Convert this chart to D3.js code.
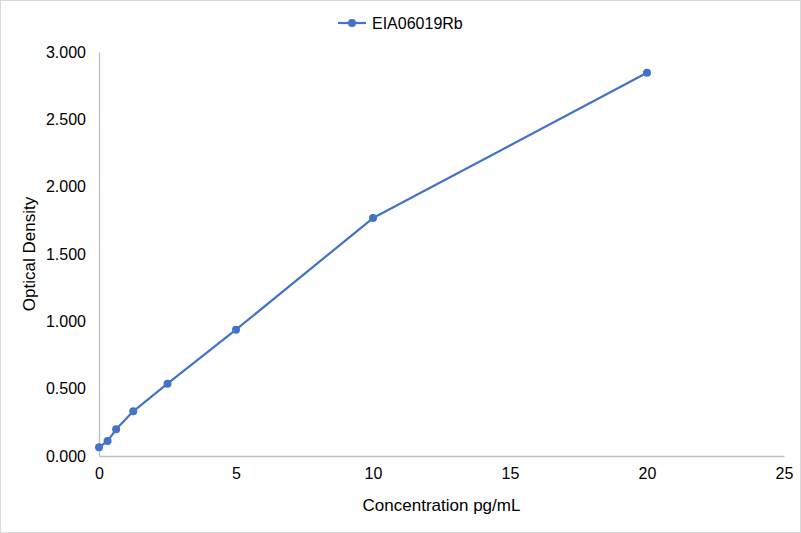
<!DOCTYPE html>
<html>
<head>
<meta charset="utf-8">
<script src="https://cdn.jsdelivr.net/npm/d3@7"></script>
<style>
  body { margin: 0; background: #fff; }
  svg { display: block; font-family: "Liberation Sans", Arial, sans-serif; }
</style>
</head>
<body>
<div id="chart"></div>
<script>
// data
var seriesName = "EIA06019Rb";
var concentration = [0, 0.3125, 0.625, 1.25, 2.5, 5, 10, 20];
var density = [0.065, 0.111, 0.198, 0.332, 0.537, 0.938, 1.767, 2.846];
var xTicks = [0, 5, 10, 15, 20, 25];
var yTicks = [0, 0.5, 1, 1.5, 2, 2.5, 3];

var svg_width = 801;
var svg_height = 533;
var margin = { top: 52, right: 17, bottom: 77, left: 99 };
var width = svg_width - margin.left - margin.right;
var height = svg_height - margin.top - margin.bottom;
var color = "#4472c4";

var svg = d3.select("#chart").append("svg")
            .attr("width", svg_width)
            .attr("height", svg_height);

// outer border
svg.append("rect")
   .attr("x", 0.5).attr("y", 0.5)
   .attr("width", svg_width - 1).attr("height", svg_height - 1)
   .attr("fill", "#fff")
   .attr("stroke", "#d9d9d9");

var x_scale = d3.scaleLinear().domain([0, 25]).range([0, width]);
var y_scale = d3.scaleLinear().domain([0, 3]).range([height, 0]);

var g = svg.append("g")
           .attr("transform", `translate(${margin.left}, ${margin.top})`);

// x axis
var x_axis = d3.axisBottom(x_scale).tickValues(xTicks).tickSize(0).tickPadding(12)
               .tickFormat(d3.format("d"));
g.append("g")
 .attr("transform", `translate(0, ${height})`)
 .call(x_axis)
 .call(function(a) {
   a.select(".domain").attr("stroke", "#bfbfbf").attr("stroke-width", 1.3);
   a.selectAll("text").attr("font-size", 16).attr("fill", "#000")
    .attr("font-family", "Liberation Sans, Arial, sans-serif");
 });

// y axis
var y_axis = d3.axisLeft(y_scale).tickValues(yTicks).tickSize(0).tickPadding(13)
               .tickFormat(d3.format(".3f"));
g.append("g")
 .call(y_axis)
 .call(function(a) {
   a.select(".domain").attr("stroke", "#bfbfbf").attr("stroke-width", 1.3);
   a.selectAll("text").attr("font-size", 16).attr("fill", "#000")
    .attr("font-family", "Liberation Sans, Arial, sans-serif");
 });

// line + markers
var line = d3.line()
  .x(function(d) { return x_scale(d[0]); })
  .y(function(d) { return y_scale(d[1]); });
var points = concentration.map(function(c, i) { return [c, density[i]]; });

g.append("path")
 .datum(points)
 .attr("fill", "none")
 .attr("stroke", color)
 .attr("stroke-width", 2.2)
 .attr("stroke-linejoin", "round")
 .attr("d", line);

g.selectAll("circle.pt")
 .data(points)
 .enter().append("circle")
 .attr("class", "pt")
 .attr("cx", function(d) { return x_scale(d[0]); })
 .attr("cy", function(d) { return y_scale(d[1]); })
 .attr("r", 4)
 .attr("fill", color);

// axis titles
svg.append("text")
   .attr("x", margin.left + width / 2)
   .attr("y", 511)
   .attr("text-anchor", "middle")
   .attr("font-size", 17)
   .text("Concentration pg/mL");

svg.append("text")
   .attr("transform", `translate(35, ${margin.top + height / 2}) rotate(-90)`)
   .attr("text-anchor", "middle")
   .attr("font-size", 17)
   .text("Optical Density");

// legend
var legend = svg.append("g").attr("transform", "translate(338, 23)");
legend.append("line")
      .attr("x1", 0).attr("x2", 28)
      .attr("stroke", color).attr("stroke-width", 2.2);
legend.append("circle").attr("cx", 14).attr("r", 4).attr("fill", color);
legend.append("text")
      .attr("x", 34).attr("y", 6)
      .attr("font-size", 16)
      .text(seriesName);
</script>
</body>
</html>
